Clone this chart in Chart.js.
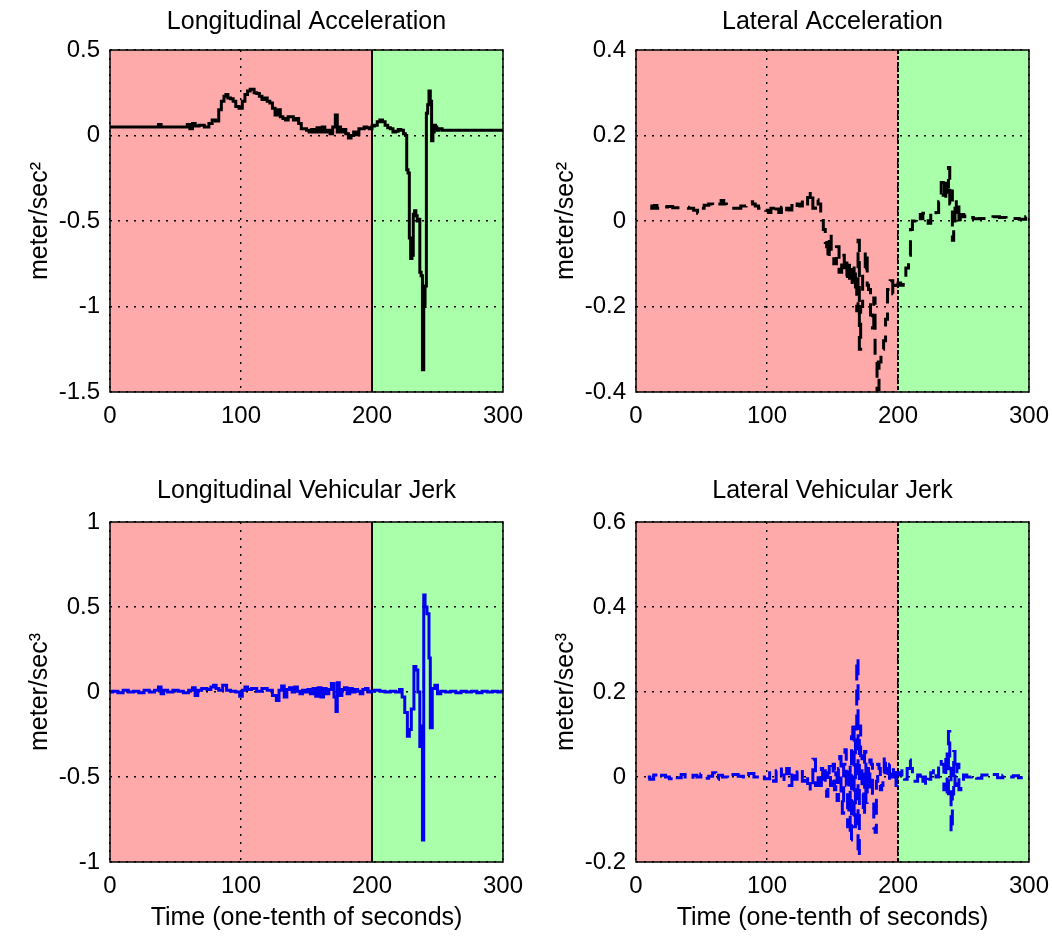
<!DOCTYPE html>
<html>
<head>
<meta charset="utf-8">
<script src="https://cdn.jsdelivr.net/npm/chart.js@4.4.1/dist/chart.umd.min.js"></script>
<style>
  html, body { margin: 0; padding: 0; background: #fff; }
  #figure { position: relative; width: 1052px; height: 936px; }
  .panel { position: absolute; }
</style>
</head>
<body>
<div id="figure">
  <div class="panel" style="left:0;top:0"><canvas id="long-accel" width="526" height="450"></canvas></div>
  <div class="panel" style="left:526px;top:0"><canvas id="lat-accel" width="526" height="450"></canvas></div>
  <div class="panel" style="left:0;top:450px"><canvas id="long-jerk" width="526" height="486"></canvas></div>
  <div class="panel" style="left:526px;top:450px"><canvas id="lat-jerk" width="526" height="486"></canvas></div>
</div>
<script>
// time axis is in tenths of a second; the manoeuvre switches phase at t = 200
const SPLIT_TIME = 200;
const TIME_TICKS = [0, 100, 200, 300];

const longAccelTime = [0, 10, 20, 30, 36, 38, 40, 50, 58, 60, 62, 64, 66, 70, 74, 77, 79, 82, 84, 86, 88, 89, 91, 93, 95, 97, 100, 102, 104, 106, 108, 109, 111, 113, 115, 117, 119, 121, 123, 125, 127, 129, 131, 133, 135, 137, 139, 141, 143, 145, 147, 149, 151, 153, 155, 157, 159, 161, 163, 165, 167, 169, 171, 173, 174, 175, 177, 179, 181, 183, 185, 187, 189, 191, 193, 195, 197, 199, 201, 203, 205, 207, 209, 211, 213, 215, 217, 219, 221, 223, 225, 226, 227, 228, 229, 230, 231, 232, 233, 234, 235, 236, 237, 238, 239, 240, 241, 242, 243, 244, 245, 246, 247, 248, 249, 250, 252, 255, 260, 270, 280, 290, 300];
const longAccel = [0.05, 0.05, 0.05, 0.05, 0.05, 0.065, 0.05, 0.05, 0.05, 0.065, 0.04, 0.07, 0.055, 0.06, 0.05, 0.07, 0.09, 0.085, 0.15, 0.2, 0.23, 0.24, 0.22, 0.215, 0.2, 0.17, 0.16, 0.2, 0.24, 0.26, 0.27, 0.27, 0.25, 0.245, 0.23, 0.21, 0.22, 0.2, 0.19, 0.16, 0.12, 0.15, 0.11, 0.1, 0.09, 0.11, 0.11, 0.09, 0.1, 0.07, 0.04, 0.04, 0.03, 0.02, 0.035, 0.02, 0.045, 0.02, 0.05, 0.02, 0.03, 0.01, 0.05, 0.12, 0.02, 0.05, 0.02, 0.035, 0.01, -0.015, 0.0, 0.02, 0.005, 0.04, 0.04, 0.05, 0.045, 0.04, 0.055, 0.06, 0.08, 0.09, 0.08, 0.06, 0.045, 0.04, 0.02, 0.025, 0.035, 0.03, 0.01, 0.0, -0.2, -0.22, -0.6, -0.72, -0.7, -0.46, -0.44, -0.47, -0.5, -0.49, -0.8, -0.82, -1.37, -1.0, -0.88, 0.13, 0.18, 0.26, 0.2, -0.03, 0.02, 0.06, 0.05, 0.03, 0.04, 0.03, 0.03, 0.03, 0.03, 0.03, 0.03];

const latAccelTime = [11, 13, 15, 17, 19, 22, 26, 30, 34, 38, 42, 46, 48, 50, 54, 57, 60, 64, 66, 68, 70, 74, 78, 82, 86, 88, 90, 92, 95, 98, 100, 102, 104, 106, 108, 110, 112, 114, 116, 118, 120, 122, 124, 126, 128, 130, 132, 134, 136, 138, 140, 142, 144, 145, 146, 147, 148, 150, 152, 154, 156, 158, 160, 162, 164, 166, 167, 168, 169, 170, 171, 172, 174, 176, 177, 178, 180, 181, 182, 183, 185, 186, 188, 190, 191, 193, 195, 197, 199, 201, 203, 205, 207, 209, 210, 212, 214, 216, 218, 220, 222, 224, 226, 228, 230, 232, 234, 235, 236, 237, 238, 239, 240, 241, 242, 243, 244, 245, 246, 247, 248, 250, 252, 255, 260, 265, 270, 275, 280, 285, 290, 295, 300];
const latAccel = [0.035, 0.03, 0.036, 0.03, 0.035, 0.033, 0.034, 0.031, 0.031, 0.032, 0.03, 0.025, 0.018, 0.03, 0.037, 0.04, 0.035, 0.04, 0.048, 0.04, 0.035, 0.03, 0.03, 0.035, 0.04, 0.045, 0.04, 0.035, 0.03, 0.032, 0.025, 0.02, 0.03, 0.018, 0.028, 0.02, 0.032, 0.022, 0.03, 0.026, 0.036, 0.028, 0.04, 0.035, 0.05, 0.04, 0.055, 0.07, 0.03, 0.05, 0.04, 0.005, -0.02, -0.05, -0.06, -0.09, -0.03, -0.07, -0.1, -0.06, -0.12, -0.08, -0.13, -0.09, -0.15, -0.1, -0.16, -0.12, -0.21, -0.045, -0.3, -0.2, -0.11, -0.07, -0.15, -0.16, -0.22, -0.25, -0.18, -0.33, -0.395, -0.33, -0.3, -0.28, -0.23, -0.16, -0.14, -0.17, -0.15, -0.145, -0.15, -0.135, -0.11, -0.08, -0.02, 0.0, 0.01, 0.015, 0.005, 0.018, 0.01, -0.005, 0.02, 0.015, 0.02, 0.045, 0.09, 0.06, 0.1, 0.05, 0.08, 0.125, 0.04, 0.07, -0.045, 0.0, 0.05, 0.02, 0.04, -0.01, 0.015, 0.01, 0.015, 0.008, 0.005, 0.006, 0.005, 0.01, 0.008, 0.004, 0.006, 0.004, 0.01];

const longJerkTime = [0, 4, 8, 12, 16, 20, 24, 28, 32, 36, 38, 40, 42, 46, 50, 54, 58, 62, 64, 66, 68, 72, 76, 78, 80, 82, 84, 88, 90, 94, 98, 100, 102, 104, 106, 110, 114, 118, 122, 126, 128, 130, 132, 134, 136, 138, 140, 142, 144, 146, 148, 150, 152, 154, 156, 158, 160, 162, 164, 166, 168, 170, 172, 173, 174, 176, 178, 180, 182, 184, 186, 188, 190, 192, 194, 196, 198, 200, 204, 208, 212, 216, 220, 222, 224, 226, 228, 229, 231, 233, 234, 236, 237, 238, 239, 240, 241, 243, 244, 245, 247, 249, 251, 254, 258, 262, 266, 270, 274, 278, 282, 286, 290, 294, 298, 300];
const longJerk = [0.0, 0.005, -0.005, 0.01, 0.0, 0.005, -0.005, 0.01, 0.0, 0.01, 0.03, -0.01, 0.01, 0.0, 0.01, 0.005, -0.005, 0.01, 0.025, -0.02, 0.01, 0.02, 0.015, 0.03, 0.04, 0.02, 0.01, 0.04, 0.01, 0.005, 0.0, -0.025, 0.01, 0.03, 0.015, 0.02, 0.005, 0.02, 0.01, -0.02, -0.05, 0.01, 0.035, -0.03, 0.015, 0.025, 0.0, 0.03, 0.005, -0.01, 0.01, 0.0, 0.015, -0.01, 0.02, -0.025, 0.025, -0.03, 0.02, -0.01, 0.015, 0.05, -0.03, -0.115, 0.055, -0.02, 0.015, 0.025, -0.01, 0.02, 0.0, 0.015, 0.005, -0.01, 0.015, 0.02, 0.0, 0.005, 0.01, 0.005, 0.0, 0.005, 0.0, 0.015, -0.03, -0.12, -0.26, -0.22, -0.1, 0.15, 0.13, 0.0, -0.32, -0.2, -0.87, 0.57, 0.5, 0.46, 0.2, -0.21, 0.02, 0.04, -0.01, 0.005, 0.0, 0.005, -0.005, 0.005, 0.0, 0.005, -0.005, 0.005, 0.0, 0.005, 0.0, 0.005];

const latJerkTime = [9, 12, 15, 18, 21, 24, 27, 30, 33, 36, 39, 42, 45, 48, 51, 54, 57, 60, 62, 64, 68, 72, 76, 80, 84, 88, 92, 96, 100, 104, 106, 108, 110, 112, 114, 116, 118, 120, 122, 124, 126, 128, 130, 132, 134, 136, 138, 140, 141, 142, 143, 144, 145, 146, 147, 148, 149, 150, 151, 152, 153, 154, 155, 156, 157, 158, 159, 160, 161, 162, 163, 164, 165, 166, 167, 168, 169, 170, 171, 172, 173, 174, 175, 176, 177, 178, 179, 180, 181, 182, 183, 184, 185, 186, 187, 188, 189, 190, 191, 192, 193, 194, 195, 196, 197, 198, 199, 200, 202, 204, 206, 208, 209, 210, 212, 214, 216, 218, 220, 222, 224, 226, 228, 230, 232, 234, 236, 237, 238, 239, 240, 241, 242, 243, 244, 246, 247, 249, 251, 254, 258, 262, 266, 270, 274, 278, 282, 286, 290, 294, 298, 300];
const latJerk = [0.0, -0.005, 0.005, -0.003, 0.004, 0.0, -0.004, 0.003, -0.002, 0.006, 0.0, -0.005, 0.004, 0.0, 0.007, -0.003, 0.002, 0.01, -0.006, 0.004, 0.0, -0.004, 0.006, 0.002, -0.005, 0.008, 0.0, 0.006, -0.004, 0.01, -0.01, 0.015, 0.024, 0.005, -0.01, 0.02, -0.02, 0.015, -0.005, 0.012, 0.02, -0.01, 0.005, -0.015, -0.032, 0.042, -0.02, 0.01, -0.02, 0.02, -0.01, 0.015, -0.03, -0.045, 0.01, 0.025, -0.02, 0.005, 0.03, -0.03, 0.01, -0.055, 0.02, 0.048, -0.04, -0.085, 0.03, 0.064, -0.02, -0.117, 0.03, -0.148, 0.095, 0.13, -0.117, 0.1, 0.28, -0.187, 0.12, 0.05, -0.04, -0.09, 0.06, -0.06, 0.02, -0.03, 0.04, 0.03, -0.05, -0.12, -0.13, -0.01, 0.03, 0.02, -0.03, -0.02, 0.01, 0.05, 0.02, 0.01, -0.01, 0.03, 0.0, 0.0, 0.025, 0.02, -0.02, 0.01, 0.005, 0.015, -0.005, 0.02, 0.04, 0.02, 0.0, -0.01, 0.005, -0.015, 0.0, -0.02, -0.005, 0.01, 0.02, 0.0, 0.04, 0.03, -0.03, 0.06, -0.05, 0.107, 0.02, -0.13, -0.04, 0.06, -0.02, 0.03, -0.03, -0.01, 0.005, 0.0, 0.004, -0.003, 0.005, 0.0, 0.006, -0.002, 0.004, 0.0, 0.003, -0.002, 0.003, 0.0];

const FONT_FAMILY = "'Liberation Sans', Arial, sans-serif";
const BEFORE_COLOR = '#ffaaaa';
const AFTER_COLOR = '#aaffaa';

// shaded phases, the boundary line and a closed axes box
const phasePlugin = {
  id: 'phases',
  beforeDraw(chart) {
    const { ctx, chartArea: a, scales: { x } } = chart;
    const split = x.getPixelForValue(SPLIT_TIME);
    ctx.save();
    ctx.fillStyle = BEFORE_COLOR;
    ctx.fillRect(a.left, a.top, split - a.left, a.bottom - a.top);
    ctx.fillStyle = AFTER_COLOR;
    ctx.fillRect(split, a.top, a.right - split, a.bottom - a.top);
    ctx.restore();
  },
  beforeDatasetsDraw(chart, args, opts) {
    const { ctx, chartArea: a, scales: { x } } = chart;
    const split = Math.round(x.getPixelForValue(SPLIT_TIME));
    ctx.save();
    ctx.strokeStyle = '#000';
    ctx.lineWidth = 2;
    ctx.setLineDash(opts.dash || []);
    ctx.beginPath();
    ctx.moveTo(split, a.top);
    ctx.lineTo(split, a.bottom);
    ctx.stroke();
    ctx.restore();
  },
  afterDraw(chart) {
    const { ctx, chartArea: a } = chart;
    ctx.save();
    ctx.strokeStyle = '#000';
    ctx.lineWidth = 1.5;
    ctx.strokeRect(a.left, a.top, a.right - a.left, a.bottom - a.top);
    ctx.restore();
  }
};

function fmt(v) {
  return String(Math.round(v * 10) / 10);
}

function makePanel(id, cfg) {
  const points = cfg.times.map((t, i) => ({ x: t, y: cfg.values[i] }));
  return new Chart(document.getElementById(id), {
    type: 'line',
    data: {
      datasets: [{
        data: points,
        borderColor: cfg.color,
        borderWidth: 3,
        borderDash: cfg.dash || [],
        stepped: 'middle',
        pointRadius: 0,
        fill: false
      }]
    },
    options: {
      responsive: false,
      animation: false,
      layout: { padding: { right: 23 } },
      plugins: {
        legend: { display: false },
        tooltip: { enabled: false },
        title: {
          display: true,
          fullSize: false,
          text: cfg.title,
          color: '#000',
          font: { family: FONT_FAMILY, size: 25, weight: 'normal', lineHeight: 1.2 },
          padding: cfg.titlePad
        },
        phases: { dash: cfg.splitDash }
      },
      scales: {
        x: {
          type: 'linear',
          min: 0,
          max: 300,
          afterBuildTicks: (scale) => { scale.ticks = TIME_TICKS.map((v) => ({ value: v })); },
          afterFit: (scale) => {
            scale.height = cfg.xHeight;
            scale.paddingLeft = 0;
            scale.paddingRight = 0;
          },
          ticks: { color: '#000', padding: 9.5, maxRotation: 0, font: { family: FONT_FAMILY, size: 24, lineHeight: 1.2 }, callback: (v) => String(v) },
          grid: { color: '#000', lineWidth: 1.4, drawTicks: false },
          border: { display: false, dash: [2, 6] },
          title: {
            display: !!cfg.xTitle,
            text: cfg.xTitle || '',
            color: '#000',
            font: { family: FONT_FAMILY, size: 25, lineHeight: 1.2 },
            padding: { top: 0, bottom: 2.5 }
          }
        },
        y: {
          min: cfg.yMin,
          max: cfg.yMax,
          afterBuildTicks: (scale) => { scale.ticks = cfg.yTicks.map((v) => ({ value: v })); },
          afterFit: (scale) => { scale.width = 110; },
          ticks: { color: '#000', padding: 10, font: { family: FONT_FAMILY, size: 24, lineHeight: 1.2 }, callback: (v) => fmt(v) },
          grid: { color: '#000', lineWidth: 1.4, drawTicks: false },
          border: { display: false, dash: [2, 6] },
          title: {
            display: true,
            text: cfg.yTitle,
            color: '#000',
            font: { family: FONT_FAMILY, size: 25, lineHeight: 1.2 },
            padding: { top: 25, bottom: 0 }
          }
        }
      }
    },
    plugins: [phasePlugin]
  });
}

makePanel('long-accel', {
  title: 'Longitudinal Acceleration',
  times: longAccelTime, values: longAccel, color: '#000',
  yMin: -1.5, yMax: 0.5, yTicks: [-1.5, -1, -0.5, 0, 0.5],
  yTitle: 'meter/sec²',
  titlePad: { top: 7, bottom: 13 }, xHeight: 58
});

makePanel('lat-accel', {
  title: 'Lateral Acceleration',
  times: latAccelTime, values: latAccel, color: '#000', dash: [16, 9], splitDash: [4, 2],
  yMin: -0.4, yMax: 0.4, yTicks: [-0.4, -0.2, 0, 0.2, 0.4],
  yTitle: 'meter/sec²',
  titlePad: { top: 7, bottom: 13 }, xHeight: 58
});

makePanel('long-jerk', {
  title: 'Longitudinal Vehicular Jerk',
  times: longJerkTime, values: longJerk, color: '#0000f0',
  yMin: -1, yMax: 1, yTicks: [-1, -0.5, 0, 0.5, 1],
  yTitle: 'meter/sec³', xTitle: 'Time (one-tenth of seconds)',
  titlePad: { top: 26.5, bottom: 15.5 }, xHeight: 74
});

makePanel('lat-jerk', {
  title: 'Lateral Vehicular Jerk',
  times: latJerkTime, values: latJerk, color: '#0000f0', dash: [16, 9], splitDash: [4, 2],
  yMin: -0.2, yMax: 0.6, yTicks: [-0.2, 0, 0.2, 0.4, 0.6],
  yTitle: 'meter/sec³', xTitle: 'Time (one-tenth of seconds)',
  titlePad: { top: 26.5, bottom: 15.5 }, xHeight: 74
});
</script>
</body>
</html>
